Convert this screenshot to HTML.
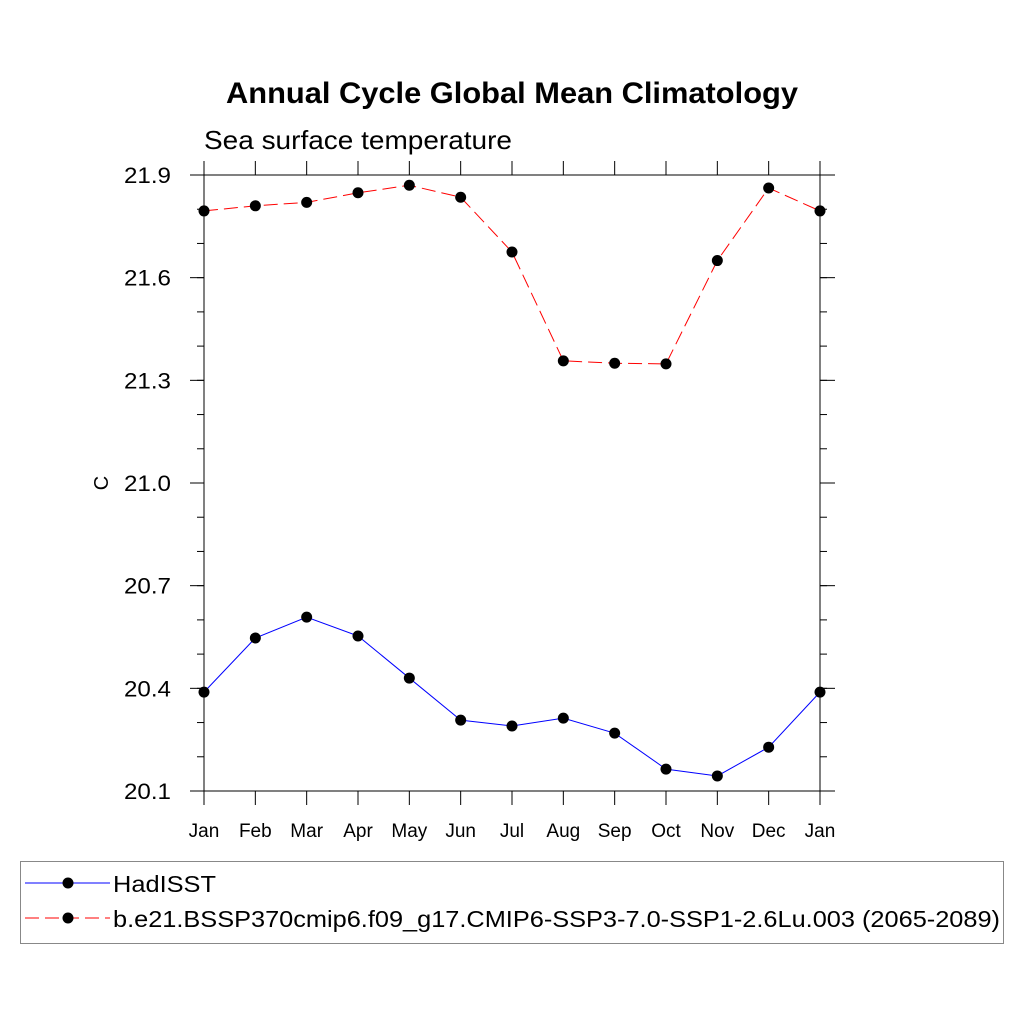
<!DOCTYPE html>
<html><head><meta charset="utf-8"><style>
body{margin:0;background:#fff;}
svg{display:block;font-family:"Liberation Sans",sans-serif;}
</style></head><body>
<svg id="chart" width="1024" height="1024" viewBox="0 0 1024 1024">
<rect width="1024" height="1024" fill="#fff"/>
<text x="226" y="103" font-size="30" font-weight="bold" textLength="572" lengthAdjust="spacingAndGlyphs">Annual Cycle Global Mean Climatology</text>
<text x="204" y="149" font-size="26" textLength="308" lengthAdjust="spacingAndGlyphs">Sea surface temperature</text>
<text x="108" y="483" font-size="20" text-anchor="middle" transform="rotate(-90 108 483)">C</text>
<g id="axes"></g>
<g id="series"></g>
<g>
<rect x="20.5" y="861.5" width="983" height="82" fill="none" stroke="#888" stroke-width="1"/>
<line x1="25" y1="883" x2="110" y2="883" stroke="#00f" stroke-width="1"/>
<circle cx="68" cy="883" r="5.5" fill="#000"/>
<text x="113" y="892" font-size="23" textLength="103" lengthAdjust="spacingAndGlyphs">HadISST</text>
<line x1="25" y1="918" x2="110" y2="918" stroke="#f00" stroke-width="1" stroke-dasharray="14,6"/>
<circle cx="68" cy="918" r="5.5" fill="#000"/>
<text x="113" y="927" font-size="23" textLength="887" lengthAdjust="spacingAndGlyphs">b.e21.BSSP370cmip6.f09_g17.CMIP6-SSP3-7.0-SSP1-2.6Lu.003 (2065-2089)</text>
</g>
</svg>
<script>
const months=["Jan","Feb","Mar","Apr","May","Jun","Jul","Aug","Sep","Oct","Nov","Dec","Jan"];
const hadisst=[20.389,20.547,20.608,20.553,20.430,20.307,20.290,20.313,20.269,20.164,20.144,20.228,20.389];
const model=[21.795,21.81,21.82,21.848,21.87,21.835,21.675,21.357,21.35,21.348,21.65,21.862,21.795];
const yTicks=[20.1,20.4,20.7,21.0,21.3,21.6,21.9];
const NS="http://www.w3.org/2000/svg";
const X0=204,X1=820,Y0=791,Y1=175,YMIN=20.1,YMAX=21.9;
function xs(i){return X0+(X1-X0)*i/(months.length-1);}
function ys(v){return Y0-(v-YMIN)/(YMAX-YMIN)*(Y0-Y1);}
function mk(tag,attrs,parent){const e=document.createElementNS(NS,tag);for(const k in attrs)e.setAttribute(k,attrs[k]);parent.appendChild(e);return e;}
const axes=document.getElementById('axes');
const ln=(x1,y1,x2,y2)=>mk('line',{x1,y1,x2,y2,stroke:'#000','stroke-width':1},axes);
ln(X0,Y1,X0,Y0);ln(X1,Y1,X1,Y0);ln(190,Y1,835,Y1);ln(190,Y0,835,Y0);
months.forEach((m,i)=>{
  const x=xs(i);
  ln(x,Y0,x,805);ln(x,Y1,x,161);
  const t=mk('text',{x:x,y:837,'font-size':19,'text-anchor':'middle'},axes);
  
  
  t.textContent=m;
});
for(let v=YMIN;v<=YMAX+1e-6;v+=0.1){
  const y=ys(v);
  ln(X0-7,y,X0,y);ln(X1,y,X1+7,y);
}
yTicks.forEach(v=>{
  const y=ys(v);
  ln(190,y,X0,y);ln(X1,y,835,y);
  const t=mk('text',{x:171,y:y+8,'font-size':22,'text-anchor':'end',textLength:47,lengthAdjust:'spacingAndGlyphs'},axes);
  
  
  t.textContent=v.toFixed(1);
});
const ser=document.getElementById('series');
function draw(vals,color,dash,name){
  const p=mk('polyline',{points:vals.map((v,i)=>xs(i)+','+ys(v)).join(' '),fill:'none',stroke:color,'stroke-width':1},ser);
  if(dash)p.setAttribute('stroke-dasharray',dash);
  
  
  vals.forEach((v,i)=>{
    const c=mk('circle',{cx:xs(i),cy:ys(v),r:5.5,fill:'#000'},ser);
    
    
  });
}
draw(hadisst,'#00f',null,'hadisst');
draw(model,'#f00','14,6','model');
</script>
</body></html>
